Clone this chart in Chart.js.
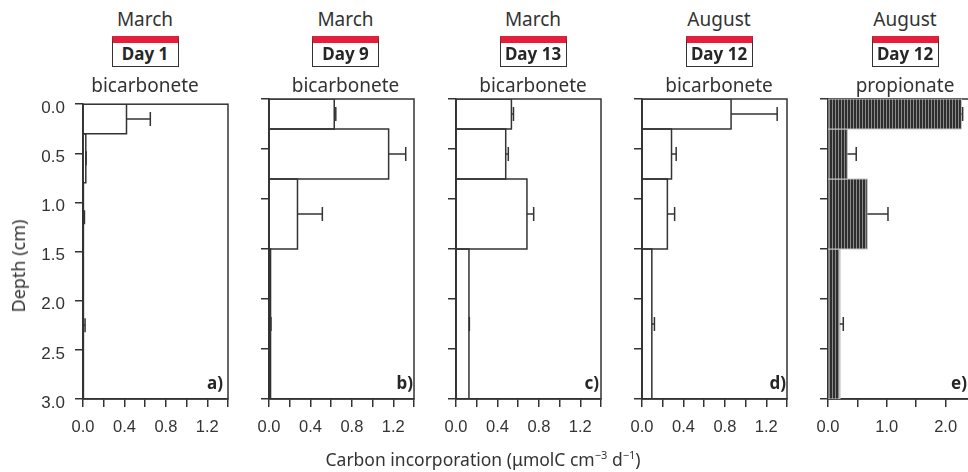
<!DOCTYPE html>
<html><head><meta charset="utf-8">
<script src="https://cdn.jsdelivr.net/npm/chart.js@4/dist/chart.umd.min.js"></script>
<style>
html,body{margin:0;padding:0;background:#fff;overflow:hidden;width:968px;height:472px;}
#wrap{position:relative;width:968px;height:472px;overflow:hidden;}
canvas{position:absolute;}
.t{position:absolute;font-family:"Noto Sans",sans-serif;color:#333;white-space:nowrap;transform:translateX(-50%);}
.m{font-size:19px;line-height:19px;}
.box{position:absolute;box-sizing:border-box;width:67px;height:31px;border:1px solid #333;border-top:7px solid #e51e3c;background:#fff;}
.d{font-size:17px;line-height:17px;font-weight:bold;color:#262626;}
.lt{position:absolute;font-family:"Noto Sans",sans-serif;font-weight:bold;font-size:17px;line-height:17px;color:#262626;white-space:nowrap;}
.yt{position:absolute;font-family:"Noto Sans",sans-serif;font-size:18px;line-height:18px;color:#333;white-space:nowrap;transform:translate(-50%,-50%) rotate(-90deg);}
.xt{position:absolute;font-family:"Noto Sans",sans-serif;font-size:17.5px;line-height:18px;color:#333;white-space:nowrap;transform:translateX(-50%);}
.xt sup{font-size:11px;line-height:0;vertical-align:0;position:relative;top:-7px;}
</style></head>
<body><div id="wrap"></div>
<script>
// ---- data ----
const depthTop    = [0, 0.3, 0.8, 1.5];
const depthBottom = [0.3, 0.8, 1.5, 3.0];

const months     = ['March', 'March', 'March', 'August', 'August'];
const days       = ['Day 1', 'Day 9', 'Day 13', 'Day 12', 'Day 12'];
const substrates = ['bicarbonete', 'bicarbonete', 'bicarbonete', 'bicarbonete', 'propionate'];
const panelLetters = ['a)', 'b)', 'c)', 'd)', 'e)'];

const meanA = [0.42, 0.027, 0.008, 0.008];
const sdA   = [0.23, 0.003, 0.006, 0.012];
const meanB = [0.63, 1.155, 0.275, 0.015];
const sdB   = [0.015, 0.165, 0.24, 0.004];
const meanC = [0.535, 0.48, 0.685, 0.125];
const sdC   = [0.02, 0.025, 0.065, 0.004];
const meanD = [0.86, 0.285, 0.245, 0.095];
const sdD   = [0.445, 0.045, 0.07, 0.025];
const meanE = [2.27, 0.33, 0.67, 0.2];
const sdE   = [0.02, 0.15, 0.35, 0.06];

const yTicks      = [0, 0.5, 1.0, 1.5, 2.0, 2.5, 3.0];
const yTickLabels = ['0.0', '0.5', '1.0', '1.5', '2.0', '2.5', '3.0'];
const xTicksBic      = [0, 0.2, 0.4, 0.6, 0.8, 1.0, 1.2, 1.4];
const xTickLabelsBic = ['0.0', '', '0.4', '', '0.8', '', '1.2', ''];
const xTicksProp      = [0, 0.5, 1.0, 1.5, 2.0, 2.5];
const xTickLabelsProp = ['0.0', '', '1.0', '', '2.0', ''];

const yTitle = 'Depth (cm)';

// ---- layout / style ----
const panelLeft = [83, 269, 456, 642, 828];
const plotW = [150, 150, 150, 150, 152];
const plotTop = 99, plotH = 300;
const titleX = [145, 345.5, 533, 719, 905];
const letterRight = [223, 413, 599, 786, 967];
const ML = 70, PT = 15, PR = 6, MB = 50;
const INK = '#333';

const panels = [
  {mean: meanA, sd: sdA, xt: xTicksBic, xl: xTickLabelsBic},
  {mean: meanB, sd: sdB, xt: xTicksBic, xl: xTickLabelsBic},
  {mean: meanC, sd: sdC, xt: xTicksBic, xl: xTickLabelsBic},
  {mean: meanD, sd: sdD, xt: xTicksBic, xl: xTickLabelsBic},
  {mean: meanE, sd: sdE, xt: xTicksProp, xl: xTickLabelsProp, hatched: true}
];

const wrap = document.getElementById('wrap');

// hatch pattern
const pc = document.createElement('canvas');
pc.width = 3; pc.height = 4;
const pctx = pc.getContext('2d');
pctx.fillStyle = '#2e2e2e'; pctx.fillRect(0, 0, 3, 4);
pctx.fillStyle = '#8a8a8a'; pctx.fillRect(2, 0, 1, 4);
const hatch = pctx.createPattern(pc, 'repeat');

const framePlugin = {
  id: 'frame',
  beforeDatasetsDraw(chart) {
    const {ctx, chartArea: a} = chart;
    ctx.save();
    ctx.strokeStyle = INK; ctx.lineWidth = 1.5;
    ctx.strokeRect(a.left, a.top, a.right - a.left, a.bottom - a.top);
    ctx.restore();
  }
};

function addText(cls, html, x, y, extra) {
  const d = document.createElement('div');
  d.className = cls; d.innerHTML = html;
  d.style.left = x + 'px'; d.style.top = y + 'px';
  if (extra) Object.assign(d.style, extra);
  wrap.appendChild(d);
  return d;
}

panels.forEach((p, i) => {
  const W = ML + plotW[i] + PR, H = PT + plotH + MB;
  const cv = document.createElement('canvas');
  cv.width = W; cv.height = H;
  cv.style.width = W + 'px'; cv.style.height = H + 'px';
  cv.style.left = (panelLeft[i] - ML) + 'px';
  cv.style.top = (plotTop - PT) + 'px';
  wrap.appendChild(cv);

  const datasets = [];
  for (let k = 0; k < depthTop.length; k++) {
    datasets.push({
      data: [
        {x: 0, y: depthTop[k]}, {x: p.mean[k], y: depthTop[k]},
        {x: p.mean[k], y: depthBottom[k]}, {x: 0, y: depthBottom[k]},
        {x: 0, y: depthTop[k]}
      ],
      showLine: true,
      fill: p.hatched ? 'shape' : false,
      backgroundColor: p.hatched ? hatch : 'rgba(0,0,0,0)',
      borderColor: p.hatched ? '#c4c4c4' : INK,
      borderWidth: p.hatched ? 1 : 1.5,
      pointRadius: 0, pointHoverRadius: 0,
      order: 2
    });
  }
  for (let k = 0; k < depthTop.length; k++) {
    const mid = (depthTop[k] + depthBottom[k]) / 2;
    datasets.push({
      data: [{x: p.mean[k], y: mid}, {x: p.mean[k] + p.sd[k], y: mid}],
      showLine: true, fill: false,
      borderColor: INK, borderWidth: 1.5,
      pointRadius: [0, 7], pointHoverRadius: 0,
      pointStyle: 'line', rotation: 90,
      pointBorderColor: INK, pointBorderWidth: 1.5,
      order: 1
    });
  }

  const gridOpt = {drawOnChartArea: false, drawTicks: true, tickLength: 8, color: INK, lineWidth: 1.5};
  const borderOpt = {display: true, color: INK, width: 1.5};

  new Chart(cv, {
    type: 'scatter',
    data: {datasets},
    options: {
      responsive: false, animation: false, devicePixelRatio: 1, events: [],
      layout: {padding: {left: 0, top: PT, right: PR, bottom: 0}},
      plugins: {legend: {display: false}, tooltip: {enabled: false}},
      scales: {
        x: {
          type: 'linear', position: 'bottom',
          min: p.xt[0], max: p.xt[p.xt.length - 1],
          afterBuildTicks: s => { s.ticks = p.xt.map(v => ({value: v})); },
          afterFit: s => { s.height = MB; },
          ticks: {
            autoSkip: false, maxRotation: 0, minRotation: 0, padding: 11,
            font: {family: 'Liberation Sans', size: 16.5}, color: INK,
            callback: (v, idx) => p.xl[idx]
          },
          grid: gridOpt, border: borderOpt
        },
        y: {
          type: 'linear', position: 'left', reverse: true,
          min: yTicks[0], max: yTicks[yTicks.length - 1],
          afterBuildTicks: s => { s.ticks = yTicks.map(v => ({value: v})); },
          afterFit: s => { s.width = ML; },
          ticks: {
            display: i === 0, autoSkip: false, padding: 10, labelOffset: 4,
            font: {family: 'Liberation Sans', size: 17}, color: INK,
            callback: (v, idx) => yTickLabels[idx]
          },
          grid: gridOpt, border: borderOpt
        }
      }
    },
    plugins: [framePlugin]
  });

  // header texts
  addText('t m', months[i], titleX[i], 10);
  const box = document.createElement('div');
  box.className = 'box';
  box.style.left = (titleX[i] - 33.5) + 'px';
  box.style.top = '36px';
  wrap.appendChild(box);
  addText('t d', days[i], titleX[i], 45);
  addText('t m', substrates[i], titleX[i], 75.5);
  const lt = addText('lt', panelLetters[i], 0, 374);
  lt.style.left = 'auto';
  lt.style.right = (968 - letterRight[i]) + 'px';
});

addText('yt', yTitle, 18, 265.5);
addText('xt', 'Carbon incorporation (μmolC cm<sup>−3</sup> d<sup>−1</sup>)', 483, 450);
</script>
</body></html>
